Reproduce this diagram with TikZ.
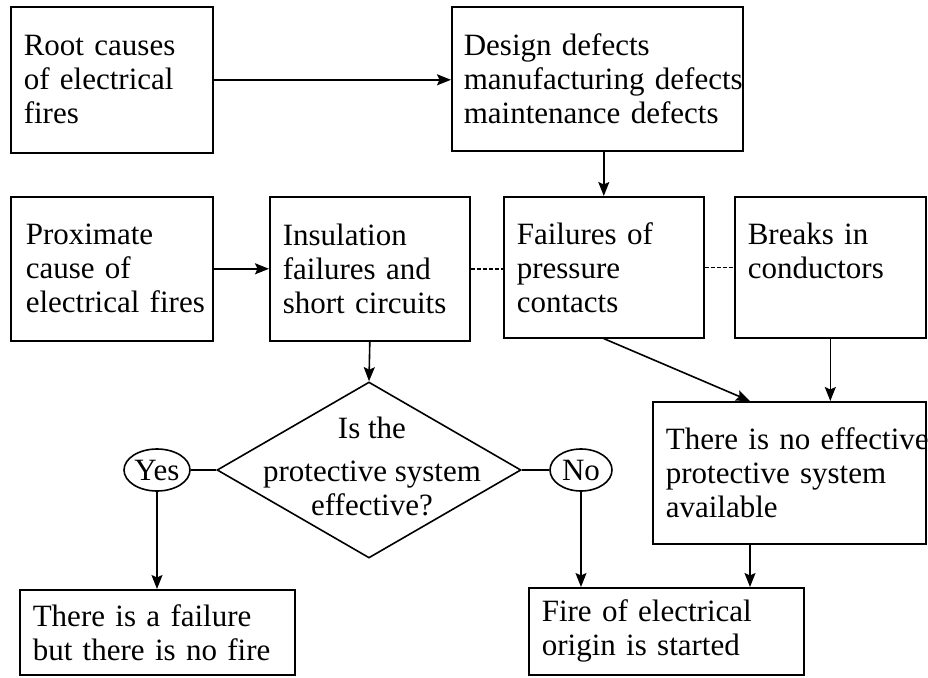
\documentclass[tikz,border=0pt]{standalone}
\usepackage{fontspec}
\setmainfont{Liberation Serif}
\usetikzlibrary{shapes.geometric,arrows.meta,calc}
\newcommand\fsz{\fontsize{31}{34}\selectfont}
\begin{document}
\begin{tikzpicture}[x=1pt,y=-1pt,
  bx/.style={draw, rectangle, anchor=north west, align=left, inner xsep=13pt, inner ysep=0pt, font=\fsz, line width=1.6pt},
  ell/.style={draw, ellipse, inner sep=0pt, minimum width=64pt, minimum height=42pt, font=\fsz, line width=1.6pt},
  dia/.style={draw, diamond, inner sep=0pt, minimum width=304pt, minimum height=176pt, line width=1.6pt},
  arr/.style={line width=1.6pt, -{Stealth[length=14pt,width=11pt,inset=2.5pt]}},
  ln/.style={line width=1.6pt},
  dsh/.style={line width=1.5pt, dash pattern=on 4pt off 2pt}]
\path[fill=white, use as bounding box] (0,0) rectangle (928,677);

\node[bx, text width=176pt, minimum height=146pt] (root) at (10,6) {Root causes\\of electrical\\fires};
\node[bx, inner xsep=12pt, text width=267pt, minimum height=144pt] (design) at (451,6) {Design defects\\\mbox{manufacturing defects}\\maintenance defects};
\node[bx, inner xsep=15pt, text width=172pt, minimum height=144pt] (prox) at (10,196) {Proximate\\cause of\\\mbox{electrical fires}};
\node[bx, text width=174pt, minimum height=144pt] (ins) at (269,196) {Insulation\\failures and\\short circuits};
\node[bx, text width=174pt, minimum height=141pt] (fpc) at (503,196) {Failures of\\pressure\\contacts};
\node[bx, text width=165pt, minimum height=141pt] (brk) at (734,196) {Breaks in\\conductors\\\mbox{}};
\node[bx, text width=247pt, minimum height=142pt] (noeff) at (652,401) {\mbox{There is no effective}\\protective system\\available};
\node[bx, text width=249pt, minimum height=85pt] (nofire) at (19,589) {There is a failure\\but there is no fire};
\node[bx, text width=249pt, minimum height=87pt] (fire) at (528,587) {Fire of electrical\\origin is started};

\node[dia] (dec) at (369,470) {};
\node[font=\fsz, align=center, inner sep=0pt] (dectext) at (372,466) {Is the\\[9pt]protective system\\effective?};
\node[ell, minimum width=66pt] (yes) at (157,470) {Yes};
\node[ell, minimum width=62pt] (no) at (581,470) {No};

\coordinate (nin) at ($(noeff.north west)+(98,0)$);
\coordinate (nout) at ($(noeff.south west)+(98,0)$);

\draw[arr] (root.east) -- (root.east -| design.west);
\draw[arr] (fpc.north |- design.south) -- (fpc.north);
\draw[arr] (prox.east) -- (prox.east -| ins.west);
\draw[dsh] (ins.east) -- (ins.east -| fpc.west);
\draw[dsh] (fpc.east) -- (fpc.east -| brk.west);
\draw[arr] (ins.south) -- (dec.north);
\draw[ln] (dec.west) -- (yes.east);
\draw[ln] (dec.east) -- (no.west);
\draw[arr] (yes.south) -- (yes.south |- nofire.north);
\draw[arr] (no.south) -- (no.south |- fire.north);
\draw[arr] (fpc.south) -- (nin);
\draw[arr] (brk.south) -- (brk.south |- noeff.north);
\draw[arr] (nout) -- (nout |- fire.north);
\end{tikzpicture}
\end{document}
